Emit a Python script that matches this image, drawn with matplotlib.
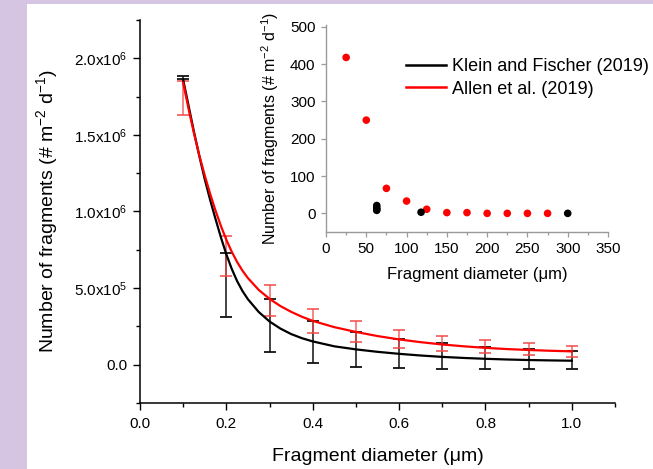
import matplotlib
matplotlib.use('Agg')
import matplotlib.pyplot as plt
from matplotlib.patches import Rectangle
from matplotlib.lines import Line2D
from matplotlib.ticker import MultipleLocator, FixedLocator, FixedFormatter

plt.rcParams['font.family'] = ['Liberation Sans', 'DejaVu Sans']
plt.rcParams['mathtext.fontset'] = 'custom'
plt.rcParams['mathtext.rm'] = 'Liberation Sans'
plt.rcParams['mathtext.it'] = 'Liberation Sans:italic'
plt.rcParams['mathtext.bf'] = 'Liberation Sans:bold'

# ---------------- data ----------------
diam = [0.1, 0.2, 0.3, 0.4, 0.5, 0.6, 0.7, 0.8, 0.9, 1.0]
klein_mean = [1.875e6, 5.2e5, 2.55e5, 1.48e5, 0.97e5, 0.73e5, 0.56e5, 0.45e5, 0.37e5, 0.29e5]
klein_sd = [1.2e4, 2.1e5, 1.75e5, 1.40e5, 1.15e5, 0.95e5, 0.84e5, 0.73e5, 0.65e5, 0.58e5]
allen_mean = [1.74e6, 7.07e5, 4.19e5, 2.85e5, 2.14e5, 1.68e5, 1.36e5, 1.16e5, 1.01e5, 0.88e5]
allen_sd = [1.12e5, 1.31e5, 0.98e5, 0.80e5, 0.68e5, 0.59e5, 0.49e5, 0.42e5, 0.38e5, 0.36e5]

# fitted curves
fit_x = [0.1, 0.1125, 0.125, 0.1375, 0.15, 0.1625, 0.175, 0.1875, 0.2, 0.2125, 0.225, 0.2375,
         0.25, 0.275, 0.3, 0.325, 0.35, 0.375, 0.4, 0.45, 0.5, 0.55, 0.6, 0.65, 0.7, 0.75,
         0.8, 0.85, 0.9, 0.95, 1.0]
klein_fit = [1.86e6, 1.69e6, 1.52e6, 1.36e6, 1.21e6, 1.075e6, 9.5e5, 8.3e5, 7.2e5, 6.25e5, 5.45e5, 4.8e5,
             4.27e5, 3.44e5, 2.82e5, 2.36e5, 2.0e5, 1.73e5, 1.52e5, 1.2e5, 1.0e5, 0.84e5, 0.71e5,
             0.60e5, 0.51e5, 0.44e5, 0.385e5, 0.34e5, 0.305e5, 0.28e5, 0.26e5]
allen_fit = [1.84e6, 1.67e6, 1.51e6, 1.365e6, 1.235e6, 1.115e6, 1.005e6, 9.05e5, 8.15e5, 7.37e5, 6.7e5,
             6.13e5, 5.65e5, 4.88e5, 4.3e5, 3.83e5, 3.45e5, 3.13e5, 2.86e5, 2.45e5, 2.14e5, 1.87e5,
             1.65e5, 1.47e5, 1.32e5, 1.2e5, 1.1e5, 1.02e5, 0.96e5, 0.91e5, 0.87e5]

y_ticks = [0.0, 5e5, 1e6, 1.5e6, 2e6]
y_tick_labels = ['0.0', '5.0x10$^5$', '1.0x10$^6$', '1.5x10$^6$', '2.0x10$^6$']
x_ticks = [0.0, 0.2, 0.4, 0.6, 0.8, 1.0]
x_tick_labels = ['0.0', '0.2', '0.4', '0.6', '0.8', '1.0']

# inset data (diameter in um)
inset_allen_x = [25, 50, 75, 100, 125, 150, 175, 200, 225, 250, 275]
inset_allen_y = [418, 250, 67, 33, 11, 2, 2, 0, 0, 0, 0]
inset_klein_x = [63, 63, 63, 63, 118, 300]
inset_klein_y = [21, 15, 11, 8, 3, 0]

legend_labels = ['Klein and Fischer (2019)', 'Allen et al. (2019)']

# ---------------- figure ----------------
W, H = 653, 469
fig = plt.figure(figsize=(W / 100, H / 100), dpi=100)
fig.patch.set_facecolor('#d5c5e3')
fig.patches.append(Rectangle((27 / W, 0), 1 - 27 / W, (H - 4) / H, transform=fig.transFigure,
                             facecolor='white', edgecolor='none', zorder=-10))

BLACK = '#000000'
RED = '#ff0000'
RED_ERR = '#f24a4a'

ax = fig.add_axes([140 / W, (H - 403) / H, (615 - 140) / W, (403 - 20) / H])
ax.set_zorder(1)
ax.patch.set_alpha(0)

ax.errorbar(diam, klein_mean, yerr=klein_sd, fmt='none', ecolor='#111111', elinewidth=1.1,
            capsize=4.5, capthick=1.3, zorder=3)
ax.errorbar(diam, allen_mean, yerr=allen_sd, fmt='none', ecolor=RED_ERR, elinewidth=1.1,
            capsize=4.5, capthick=1.3, alpha=0.85, zorder=3)
ax.plot(fit_x, klein_fit, color=BLACK, lw=1.6, zorder=4)
ax.plot(fit_x, allen_fit, color=RED, lw=1.6, zorder=4)

ax.set_xlim(0, 1.1)
ax.set_ylim(-2.5e5, 2.25e6)
ax.xaxis.set_major_locator(FixedLocator(x_ticks))
ax.xaxis.set_major_formatter(FixedFormatter(x_tick_labels))
ax.xaxis.set_minor_locator(MultipleLocator(0.1))
ax.yaxis.set_major_locator(FixedLocator(y_ticks))
ax.yaxis.set_major_formatter(FixedFormatter(y_tick_labels))
ax.yaxis.set_minor_locator(MultipleLocator(2.5e5))

for s in ['top', 'right']:
    ax.spines[s].set_visible(False)
for s in ['left', 'bottom']:
    ax.spines[s].set_linewidth(1.1)
ax.tick_params(which='major', direction='out', length=5, width=1.0, labelsize=11, pad=4)
ax.tick_params(which='minor', direction='out', length=3, width=1.0)
ax.tick_params(axis='x', which='major', pad=5)

ax.set_xlabel('Fragment diameter (\u03bcm)', fontsize=14)
ax.xaxis.set_label_coords(0.5, -0.118)
ax.set_ylabel('Number of fragments (# m$^{-2}$ d$^{-1}$)', fontsize=14)
ax.yaxis.set_label_coords(-0.168, 0.5)

# ---------------- inset ----------------
axi = fig.add_axes([326 / W, (H - 232) / H, (608 - 326) / W, (232 - 25) / H])
axi.set_zorder(2)
axi.patch.set_alpha(0)
axi.scatter(inset_allen_x, inset_allen_y, s=30, color=RED, edgecolors='none', zorder=3, clip_on=False)
axi.scatter(inset_klein_x, inset_klein_y, s=30, color=BLACK, edgecolors='none', zorder=3, clip_on=False)
axi.set_xlim(0, 350)
axi.set_ylim(-50, 505)
axi.xaxis.set_major_locator(MultipleLocator(50))
axi.xaxis.set_minor_locator(MultipleLocator(25))
axi.yaxis.set_major_locator(FixedLocator([0, 100, 200, 300, 400, 500]))
for s in ['top', 'right']:
    axi.spines[s].set_visible(False)
for s in ['left', 'bottom']:
    axi.spines[s].set_color('#9a9a9a')
    axi.spines[s].set_linewidth(1.0)
axi.tick_params(which='major', direction='out', length=3.5, width=0.9, color='#9a9a9a',
                labelsize=11, pad=4)
axi.tick_params(which='minor', direction='out', length=2, width=0.9, color='#9a9a9a')
axi.set_xlabel('Fragment diameter (\u03bcm)', fontsize=12)
axi.xaxis.set_label_coords(0.535, -0.168)
axi.set_ylabel('Number of fragments (# m$^{-2}$ d$^{-1}$)', fontsize=11.5)
axi.yaxis.set_label_coords(-0.16, 0.5)

handles = [Line2D([], [], color=BLACK, lw=1.8), Line2D([], [], color=RED, lw=1.8)]
fig.legend(handles, legend_labels, loc='upper left', bbox_to_anchor=(390 / W, 1 - 42 / H),
           frameon=False, fontsize=13, handlelength=2.2, handletextpad=0.35, labelspacing=0.3)

fig.savefig('out.png', dpi=100)
